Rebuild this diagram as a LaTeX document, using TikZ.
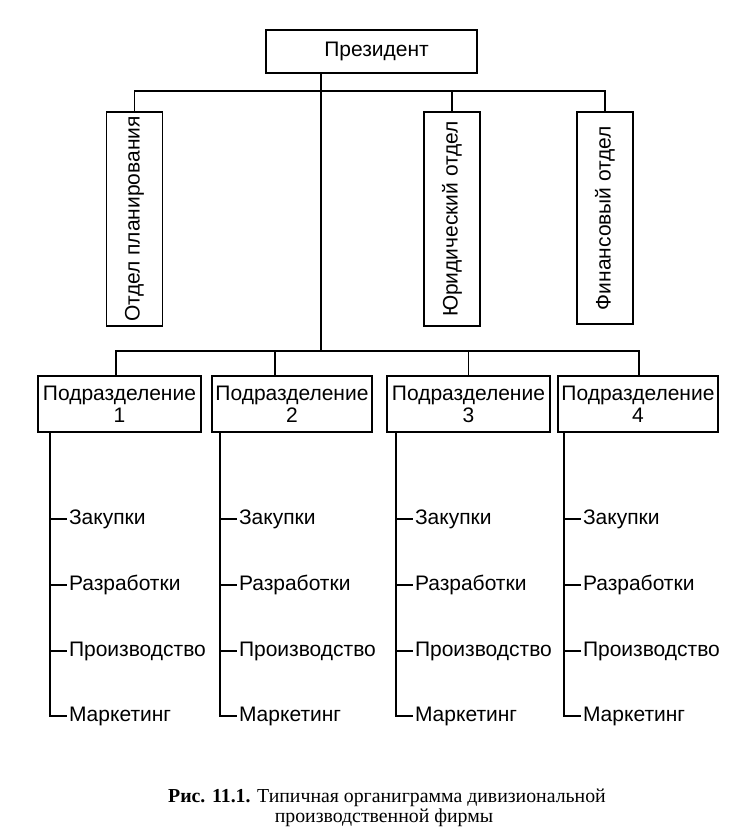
\documentclass[tikz,border=0pt]{standalone}
\usepackage{fontspec}
\setmainfont{Liberation Serif}
\newfontfamily\orgsans{Liberation Sans}
\begin{document}
\begin{tikzpicture}[x=1pt,y=-1pt,
  every node/.style={inner sep=0pt, outer sep=0pt},
  orgbox/.style={draw, line width=1.2pt, font=\orgsans\fontsize{21}{22}\selectfont, align=center},
  vertbox/.style={draw, line width=1.2pt, font=\orgsans\fontsize{21}{22}\selectfont, rotate=90},
  orgitem/.style={anchor=west, inner sep=2pt, font=\orgsans\fontsize{21}{22}\selectfont},
  ln/.style={line width=1.2pt},
  captxt/.style={anchor=base, font=\fontsize{19.8}{20}\selectfont}]
\useasboundingbox (0,0) rectangle (738,831);
\fill[white] (0,0) rectangle (738,831);

% top level
\node[orgbox, minimum width=211pt, minimum height=43pt] (pres) at (371.5,51.5) {\hspace*{10pt}Президент};
\node[vertbox, minimum width=214pt, minimum height=56pt] (plan) at (134.5,219) {Отдел планирования};
\node[vertbox, minimum width=214pt, minimum height=56pt] (jur) at (452,219) {Юридический отдел};
\node[vertbox, minimum width=212pt, minimum height=56pt] (fin) at (605,218) {Финансовый отдел};

\coordinate (t1) at (321,91);
\coordinate (t2) at (321,351);
\draw[ln] (pres.south -| t1) -- (t2);
\draw[ln] (plan.east) |- (t1) -| (fin.east);
\draw[ln] (jur.east) -- (jur.east |- t1);

% divisions
\node[orgbox, minimum width=163pt, minimum height=56pt] (d1) at (119.5,404) {Подразделение\\1};
\node[orgbox, minimum width=160pt, minimum height=56pt] (d2) at (292,404) {Подразделение\\2};
\node[orgbox, minimum width=163pt, minimum height=56pt] (d3) at (468.5,404) {Подразделение\\3};
\node[orgbox, minimum width=160pt, minimum height=56pt] (d4) at (638,404) {Подразделение\\4};

\draw[ln] ([xshift=-3.5pt]d1.north) |- (t2) -| ([xshift=1pt]d4.north);
\draw[ln] ([xshift=-17pt]d2.north) -- ([xshift=-17pt]d2.north |- t2);
\draw[ln] (d3.north) -- (d3.north |- t2);

% columns
\foreach \i/\x in {1/50,2/220,3/396,4/564}{
  \coordinate (c\i) at (\x,432);
  \node[orgitem] (z\i) at (\x+17,519) {Закупки};
  \node[orgitem] (r\i) at (\x+17,585) {Разработки};
  \node[orgitem] (p\i) at (\x+17,651) {Производство};
  \node[orgitem] (m\i) at (\x+17,716) {Маркетинг};
  \draw[ln] (d\i.south -| c\i) |- (m\i.west);
  \draw[ln] (z\i.west -| c\i) -- (z\i.west);
  \draw[ln] (r\i.west -| c\i) -- (r\i.west);
  \draw[ln] (p\i.west -| c\i) -- (p\i.west);
}

% caption
\node[captxt] (cap1) at (387,802) {\textbf{Рис. 11.1.} Типичная органиграмма дивизиональной};
\node[captxt] (cap2) at (384,822) {производственной фирмы};
\end{tikzpicture}
\end{document}
